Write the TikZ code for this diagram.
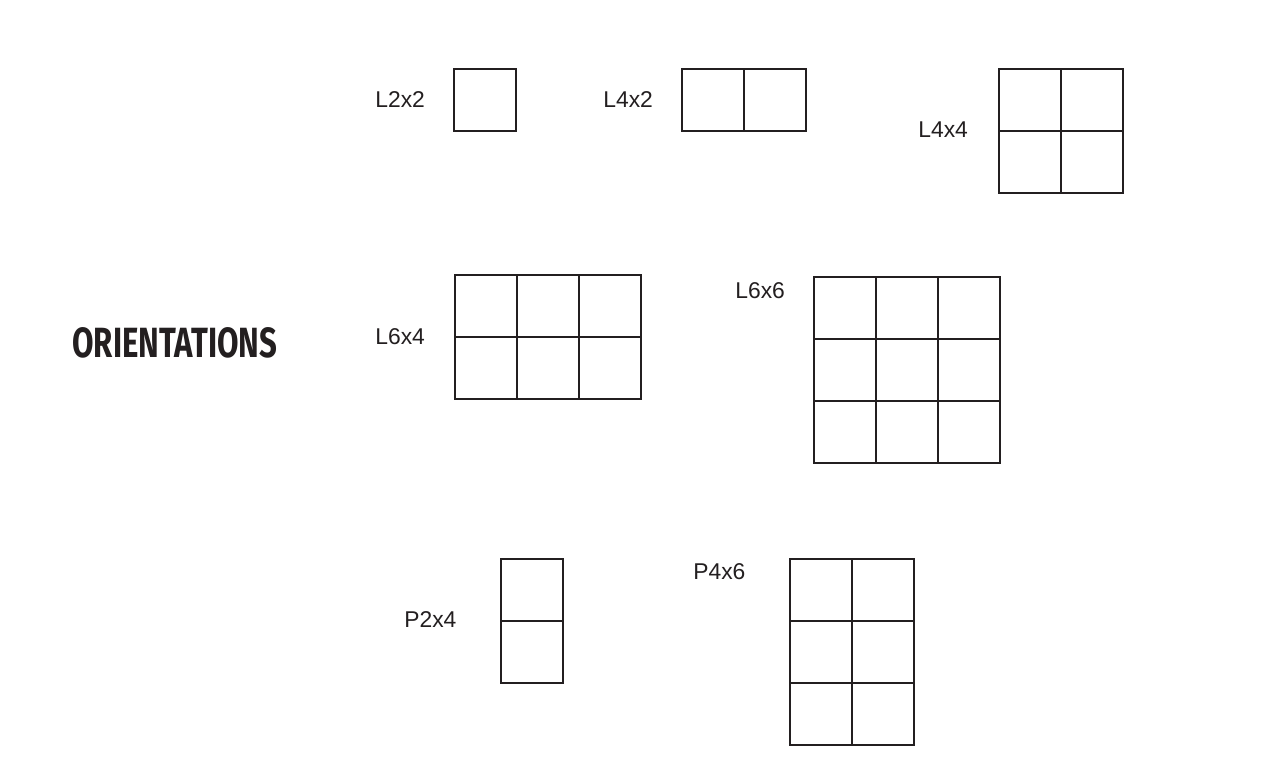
\documentclass[tikz,border=0pt]{standalone}
\usepackage{fontspec}
\setmainfont{Liberation Sans}
\newfontfamily\titlefont{Fira Sans}
\definecolor{ink}{HTML}{231F20}
\tikzset{
  lbl/.style={anchor=west, inner sep=0pt, font=\fontsize{13}{15}\selectfont, text=ink},
  cellline/.style={draw=ink, line width=0.8pt}
}
\begin{document}
\begin{tikzpicture}[x=0.02cm,y=-0.02cm]
\useasboundingbox[fill=white] (0,0) rectangle (1280,777);

\node[anchor=west, inner sep=0pt, text=ink] (title) at (72,343)
  {\resizebox{4.1cm}{0.6cm}{\titlefont\bfseries ORIENTATIONS}};

% top row
\node[lbl] (l2x2) at (375,100) {L2x2};
\draw[cellline] (454,69) rectangle ++(62,62);

\node[lbl] (l4x2) at (603,100) {L4x2};
\foreach \x in {0,1}
    \draw[cellline] (682+\x*62,69) rectangle ++(62,62);

\node[lbl] (l4x4) at (918,130) {L4x4};
\foreach \x in {0,1}
  \foreach \y in {0,1}
    \draw[cellline] (999+\x*62,69+\y*62) rectangle ++(62,62);

% middle row
\node[lbl] (l6x4) at (375,337) {L6x4};
\foreach \x in {0,1,2}
  \foreach \y in {0,1}
    \draw[cellline] (455+\x*62,275+\y*62) rectangle ++(62,62);

\node[lbl] (l6x6) at (735,291) {L6x6};
\foreach \x in {0,1,2}
  \foreach \y in {0,1,2}
    \draw[cellline] (814+\x*62,277+\y*62) rectangle ++(62,62);

% bottom row
\node[lbl] (p2x4) at (404,620) {P2x4};
\foreach \y in {0,1}
    \draw[cellline] (501,559+\y*62) rectangle ++(62,62);

\node[lbl] (p4x6) at (693,572) {P4x6};
\foreach \x in {0,1}
  \foreach \y in {0,1,2}
    \draw[cellline] (790+\x*62,559+\y*62) rectangle ++(62,62);

\end{tikzpicture}
\end{document}
